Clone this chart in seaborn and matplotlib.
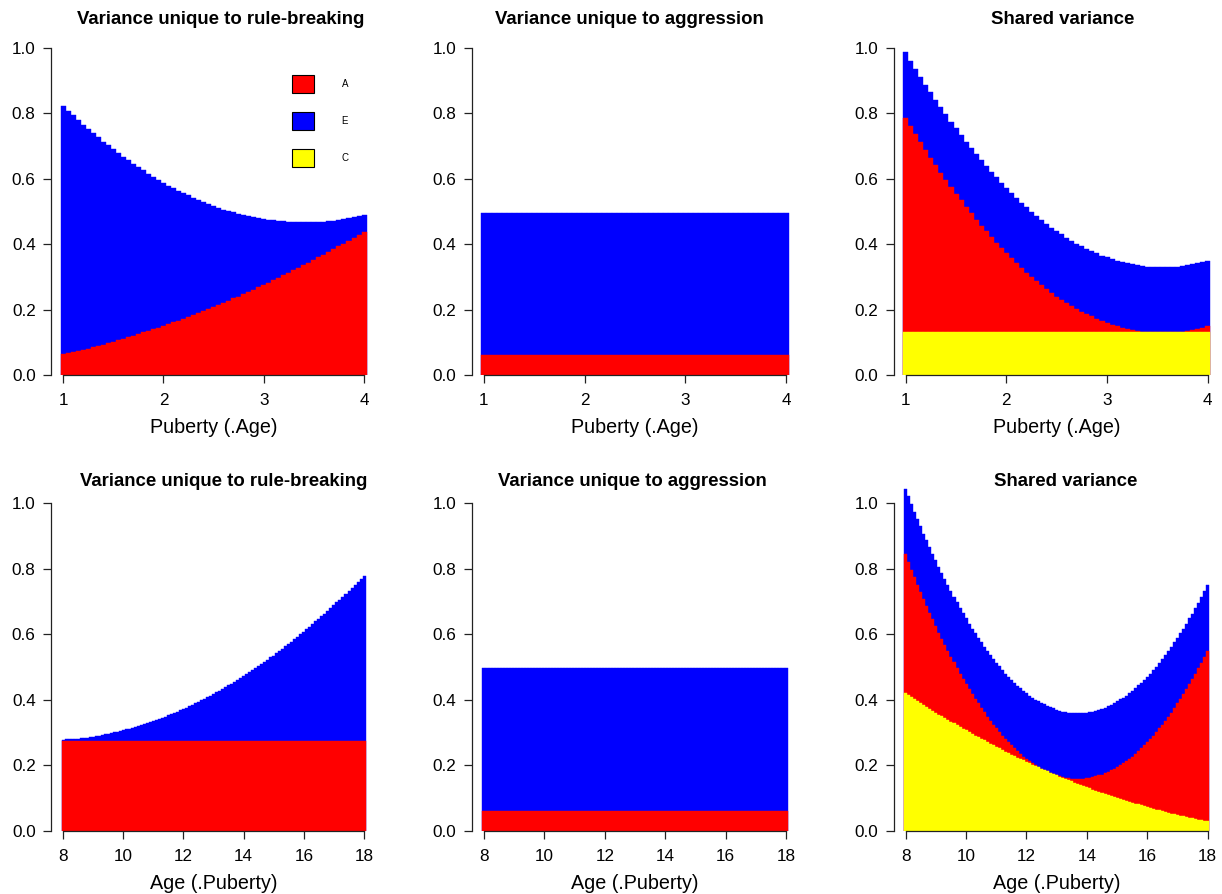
import numpy as np
import pandas as pd
import matplotlib
matplotlib.use("Agg")
import matplotlib.pyplot as plt
import seaborn as sns
from matplotlib.patches import Patch

sns.set_theme(style="ticks")
plt.rcParams['font.family'] = ['Liberation Sans', 'DejaVu Sans']
plt.rcParams.update({'text.color': 'black', 'axes.labelcolor': 'black',
                     'xtick.color': 'black', 'ytick.color': 'black',
                     'axes.edgecolor': 'black'})

# ---------------- data ----------------
puberty = np.round(np.linspace(1, 4, 61), 2)
age = np.round(np.linspace(8, 18, 101), 1)

pub_ticks = [1, 2, 3, 4]
age_ticks = [8, 10, 12, 14, 16, 18]
y_ticks = [0.0, 0.2, 0.4, 0.6, 0.8, 1.0]

titles = ["Variance unique to rule-breaking", "Variance unique to aggression", "Shared variance"]
xlabels = ["Puberty (.Age)", "Age (.Puberty)"]
legend_labels = ["A", "E", "C"]

# Puberty (.Age) row
rb_pub_A = [0.063, 0.066, 0.070, 0.074, 0.077, 0.081, 0.085, 0.089, 0.093, 0.097,
            0.102, 0.106, 0.111, 0.115, 0.120, 0.125, 0.130, 0.135, 0.140, 0.145,
            0.150, 0.155, 0.161, 0.166, 0.172, 0.178, 0.184, 0.189, 0.195, 0.202,
            0.208, 0.214, 0.220, 0.227, 0.234, 0.240, 0.247, 0.254, 0.261, 0.268,
            0.275, 0.282, 0.290, 0.297, 0.305, 0.312, 0.320, 0.328, 0.336, 0.344,
            0.352, 0.360, 0.368, 0.377, 0.385, 0.394, 0.402, 0.411, 0.420, 0.429,
            0.438]
rb_pub_E = [0.760, 0.742, 0.724, 0.706, 0.689, 0.671, 0.654, 0.638, 0.621, 0.605,
            0.588, 0.572, 0.557, 0.541, 0.526, 0.510, 0.496, 0.481, 0.466, 0.452,
            0.438, 0.424, 0.411, 0.397, 0.384, 0.371, 0.358, 0.346, 0.333, 0.321,
            0.309, 0.297, 0.286, 0.275, 0.264, 0.253, 0.242, 0.232, 0.221, 0.211,
            0.202, 0.192, 0.183, 0.174, 0.165, 0.156, 0.147, 0.139, 0.131, 0.123,
            0.116, 0.108, 0.101, 0.094, 0.087, 0.080, 0.074, 0.068, 0.062, 0.056,
            0.051]
ag_pub_A = [0.06] * 61
ag_pub_E = [0.436] * 61
sh_pub_C = [0.13] * 61
sh_pub_A = [0.657, 0.631, 0.606, 0.582, 0.558, 0.534, 0.511, 0.489, 0.467, 0.445,
            0.424, 0.404, 0.384, 0.364, 0.345, 0.327, 0.309, 0.291, 0.274, 0.258,
            0.242, 0.227, 0.212, 0.197, 0.183, 0.170, 0.157, 0.145, 0.133, 0.121,
            0.110, 0.100, 0.090, 0.081, 0.072, 0.064, 0.056, 0.049, 0.042, 0.035,
            0.030, 0.024, 0.020, 0.015, 0.011, 0.008, 0.005, 0.003, 0.001, 0.000,
            0.000, 0.000, 0.000, 0.000, 0.001, 0.003, 0.006, 0.008, 0.012, 0.015,
            0.020]
sh_pub_E = [0.20] * 61

# Age (.Puberty) row
rb_age_A = [0.275] * 101
rb_age_E = [0.003, 0.004, 0.004, 0.005, 0.006, 0.007, 0.008, 0.009, 0.010, 0.012,
            0.013, 0.015, 0.016, 0.018, 0.020, 0.022, 0.024, 0.026, 0.028, 0.030,
            0.032, 0.035, 0.037, 0.040, 0.042, 0.045, 0.048, 0.051, 0.054, 0.057,
            0.060, 0.064, 0.067, 0.070, 0.074, 0.078, 0.081, 0.085, 0.089, 0.093,
            0.097, 0.101, 0.105, 0.110, 0.114, 0.119, 0.123, 0.128, 0.133, 0.138,
            0.143, 0.148, 0.153, 0.158, 0.163, 0.169, 0.174, 0.180, 0.185, 0.191,
            0.197, 0.203, 0.209, 0.215, 0.221, 0.228, 0.234, 0.240, 0.247, 0.254,
            0.260, 0.267, 0.274, 0.281, 0.288, 0.295, 0.302, 0.310, 0.317, 0.325,
            0.332, 0.340, 0.348, 0.356, 0.364, 0.372, 0.380, 0.388, 0.396, 0.405,
            0.413, 0.422, 0.430, 0.439, 0.448, 0.457, 0.466, 0.475, 0.484, 0.494,
            0.503]
ag_age_A = [0.06] * 101
ag_age_E = [0.436] * 101
sh_age_C = [0.420, 0.414, 0.408, 0.402, 0.396, 0.390, 0.384, 0.378, 0.373, 0.367,
            0.361, 0.355, 0.350, 0.344, 0.339, 0.333, 0.328, 0.323, 0.317, 0.312,
            0.307, 0.301, 0.296, 0.291, 0.286, 0.281, 0.276, 0.271, 0.266, 0.261,
            0.257, 0.252, 0.247, 0.242, 0.238, 0.233, 0.229, 0.224, 0.220, 0.215,
            0.211, 0.207, 0.202, 0.198, 0.194, 0.190, 0.186, 0.182, 0.178, 0.174,
            0.170, 0.166, 0.162, 0.158, 0.155, 0.151, 0.147, 0.144, 0.140, 0.136,
            0.133, 0.130, 0.126, 0.123, 0.120, 0.116, 0.113, 0.110, 0.107, 0.104,
            0.101, 0.098, 0.095, 0.092, 0.089, 0.086, 0.083, 0.081, 0.078, 0.075,
            0.073, 0.070, 0.068, 0.065, 0.063, 0.060, 0.058, 0.056, 0.053, 0.051,
            0.049, 0.047, 0.045, 0.043, 0.041, 0.039, 0.037, 0.035, 0.033, 0.032,
            0.030]
sh_age_A = [0.424, 0.406, 0.389, 0.372, 0.355, 0.339, 0.323, 0.308, 0.293, 0.278,
            0.264, 0.250, 0.236, 0.223, 0.210, 0.198, 0.186, 0.174, 0.162, 0.152,
            0.141, 0.131, 0.121, 0.112, 0.103, 0.094, 0.086, 0.078, 0.070, 0.063,
            0.056, 0.050, 0.044, 0.038, 0.033, 0.028, 0.023, 0.019, 0.015, 0.012,
            0.009, 0.006, 0.004, 0.002, 0.001, 0.000, 0.000, 0.000, 0.000, 0.000,
            0.000, 0.001, 0.002, 0.004, 0.006, 0.009, 0.012, 0.015, 0.019, 0.023,
            0.028, 0.033, 0.038, 0.044, 0.050, 0.056, 0.063, 0.070, 0.078, 0.086,
            0.094, 0.103, 0.112, 0.121, 0.131, 0.141, 0.152, 0.163, 0.174, 0.186,
            0.198, 0.210, 0.223, 0.236, 0.250, 0.264, 0.278, 0.293, 0.308, 0.324,
            0.340, 0.356, 0.372, 0.389, 0.407, 0.424, 0.443, 0.461, 0.480, 0.499,
            0.519]
sh_age_E = [0.20] * 101

RED, BLUE, YELLOW = "#FF0000", "#0000FF", "#FFFF00"

# ---------------- figure ----------------
W, H = 1222, 894
fig = plt.figure(figsize=(W / 100, H / 100), dpi=100)


def add_axes(left_px, zero_px, px_per_unit, width_px, ytop=1.06):
    height_px = ytop * px_per_unit
    return fig.add_axes([left_px / W, (H - zero_px) / H, width_px / W, height_px / H])


def draw(ax, x, layers):
    cum = np.cumsum([np.asarray(v, dtype=float) for v, _ in layers], axis=0)
    for i in reversed(range(len(layers))):
        df = pd.DataFrame({"x": x, "y": cum[i]})
        c = layers[i][1]
        sns.barplot(data=df, x="x", y="y", native_scale=True, width=1.0,
                    color=c, saturation=1, errorbar=None, ax=ax,
                    edgecolor=c, linewidth=0.3)


def style(ax, xlo, xhi, ticks, xlabel):
    pad = 0.04 * (xhi - xlo)
    ax.set_xlim(xlo - pad, xhi + pad)
    ax.set_ylim(0, 1.06)
    ax.set_xticks(ticks)
    ax.set_xticklabels([str(t) for t in ticks])
    ax.set_yticks(y_ticks)
    ax.set_yticklabels([f"{t:.1f}" for t in y_ticks])
    for s in ["top", "right"]:
        ax.spines[s].set_visible(False)
    ax.spines["left"].set_bounds(0, 1)
    ax.spines["bottom"].set_bounds(ticks[0], ticks[-1])
    for s in ["left", "bottom"]:
        ax.spines[s].set_linewidth(0.9)
        ax.spines[s].set_color("#222222")
    ax.tick_params(axis="both", direction="out", length=5.5, width=0.9,
                   color="#222222", labelsize=12.3)
    ax.tick_params(axis="x", pad=7.2)
    ax.tick_params(axis="y", pad=5.5)
    ax.set_xlabel(xlabel, fontsize=14.2, labelpad=7.5)
    ax.set_ylabel("")
    ax.set_facecolor("white")


cols_left = [51.0, 471.9, 893.6]
cols_w = [325.1, 326.2, 326.2]

top_layers = [
    [(rb_pub_A, RED), (rb_pub_E, BLUE)],
    [(ag_pub_A, RED), (ag_pub_E, BLUE)],
    [(sh_pub_C, YELLOW), (sh_pub_A, RED), (sh_pub_E, BLUE)],
]
bot_layers = [
    [(rb_age_A, RED), (rb_age_E, BLUE)],
    [(ag_age_A, RED), (ag_age_E, BLUE)],
    [(sh_age_C, YELLOW), (sh_age_A, RED), (sh_age_E, BLUE)],
]

top_title_x = [221, 629, 1063]
bot_title_x = [224, 632.5, 1066]

axes_top = []
for j in range(3):
    ax = add_axes(cols_left[j], 375, 327, cols_w[j])
    draw(ax, puberty, top_layers[j])
    style(ax, 1, 4, pub_ticks, xlabels[0])
    fig.text(top_title_x[j] / W, 1 - 24 / H, titles[j], ha="center", va="baseline",
             fontsize=13.4, fontweight="bold")
    axes_top.append(ax)

for j in range(3):
    ax = add_axes(cols_left[j], 831, 328, cols_w[j])
    draw(ax, age, bot_layers[j])
    style(ax, 8, 18, age_ticks, xlabels[1])
    fig.text(bot_title_x[j] / W, 1 - 486 / H, titles[j], ha="center", va="baseline",
             fontsize=13.4, fontweight="bold")

# legend in the first panel
handles = [Patch(facecolor=c, edgecolor="black", linewidth=0.8, label=l)
           for l, c in zip(legend_labels, [RED, BLUE, YELLOW])]
axes_top[0].legend(handles=handles, loc="upper left",
                   bbox_to_anchor=(292 / W, 1 - 75 / H), bbox_transform=fig.transFigure,
                   frameon=False, fontsize=7, borderpad=0, borderaxespad=0,
                   handlelength=2.26, handleheight=2.47, labelspacing=1.95,
                   handletextpad=2.85)

fig.savefig("out.png", dpi=100, facecolor="white")
